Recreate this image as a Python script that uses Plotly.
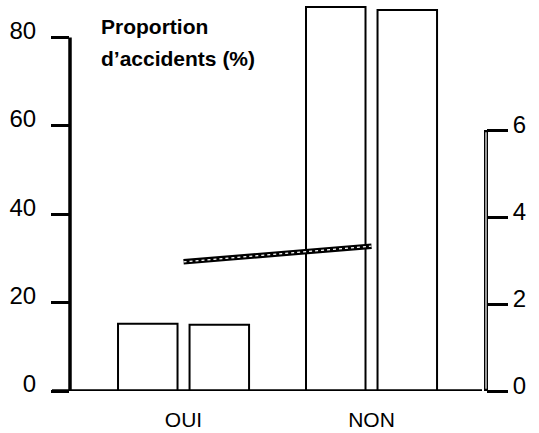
import plotly.graph_objects as go

categories = ["OUI", "NON"]
series_a = [15.2, 86.9]   # left axis, first bar of each group
series_b = [15.0, 86.2]   # left axis, second bar of each group
line_vals = [2.97, 3.33]  # right axis
left_ticks = [0, 20, 40, 60, 80]
right_ticks = [0, 2, 4, 6]
title_lines = ["Proportion", "d\u2019accidents (%)"]

FONT = "Liberation Sans, Arial, sans-serif"
W, H = 539, 433
L, R, T, B = 70, 53, 2, 42
plot_w = W - L - R
plot_h = H - T - B

fig = go.Figure()
bar_style = dict(marker=dict(color="white", line=dict(color="black", width=2)),
                 showlegend=False, hoverinfo="skip")
fig.add_trace(go.Bar(x=categories, y=series_a, **bar_style))
fig.add_trace(go.Bar(x=categories, y=series_b, **bar_style))
fig.add_trace(go.Scatter(x=categories, y=line_vals, yaxis="y2", mode="lines",
                         line=dict(color="black", width=5.5), showlegend=False, hoverinfo="skip"))
fig.add_trace(go.Scatter(x=categories, y=line_vals, yaxis="y2", mode="lines",
                         line=dict(color="white", width=1.2, dash="dot"), showlegend=False, hoverinfo="skip"))

def px_x(p):
    return (p - L) / plot_w

# axis lines drawn as partial spans
shapes = [
    dict(type="line", xref="paper", yref="y", x0=0, x1=0, y0=0, y1=80,
         line=dict(color="black", width=3.5)),
    dict(type="line", xref="paper", yref="y", x0=px_x(52), x1=px_x(482), y0=0, y1=0,
         line=dict(color="black", width=3.5)),
    dict(type="line", xref="paper", yref="y2", x0=1, x1=1, y0=0, y1=6,
         line=dict(color="black", width=4)),
    dict(type="line", xref="paper", yref="y2", x0=1, x1=1, y0=0.05, y1=5.95,
         line=dict(color="white", width=1.2)),
]

annotations = [
    dict(text="<b>%s</b>" % title_lines[0], xref="paper", yref="paper",
         x=px_x(99), y=(H - B - 26.4) / plot_h, xanchor="left", yanchor="middle",
         showarrow=False, font=dict(family=FONT, size=21, color="black")),
    dict(text="<b>%s</b>" % title_lines[1], xref="paper", yref="paper",
         x=px_x(99), y=(H - B - 58.4) / plot_h, xanchor="left", yanchor="middle",
         showarrow=False, font=dict(family=FONT, size=21, color="black")),
]

fig.update_layout(
    width=W, height=H,
    margin=dict(l=L, r=R, t=T, b=B, pad=0, autoexpand=False),
    paper_bgcolor="white", plot_bgcolor="white",
    barmode="group", bargap=0.239, bargroupgap=0.168,
    font=dict(family=FONT, color="black", size=24),
    xaxis=dict(type="category", range=[-0.604, 1.609], showgrid=False, zeroline=False,
               showline=False, ticks="", tickfont=dict(size=21), automargin=False,
               ticklabelstandoff=14),
    yaxis=dict(range=[0, (plot_h) / 4.42], tickvals=left_ticks, showgrid=False,
               zeroline=False, showline=False, ticks="outside", ticklen=18,
               tickwidth=3, tickcolor="black", tickfont=dict(size=24), automargin=False,
               ticklabelstandoff=10, ticklabelshift=-7),
    yaxis2=dict(range=[0, (plot_h) / 43.5], tickvals=right_ticks, overlaying="y",
                anchor="x", side="right", showgrid=False, zeroline=False, showline=False,
                ticks="outside", ticklen=21, tickwidth=3, tickcolor="black",
                tickfont=dict(size=24), automargin=False, ticklabelshift=-5),
    shapes=shapes, annotations=annotations,
)

fig.write_html("out.html", config={"displayModeBar": False},
               post_script="document.body.style.margin='0px';")
